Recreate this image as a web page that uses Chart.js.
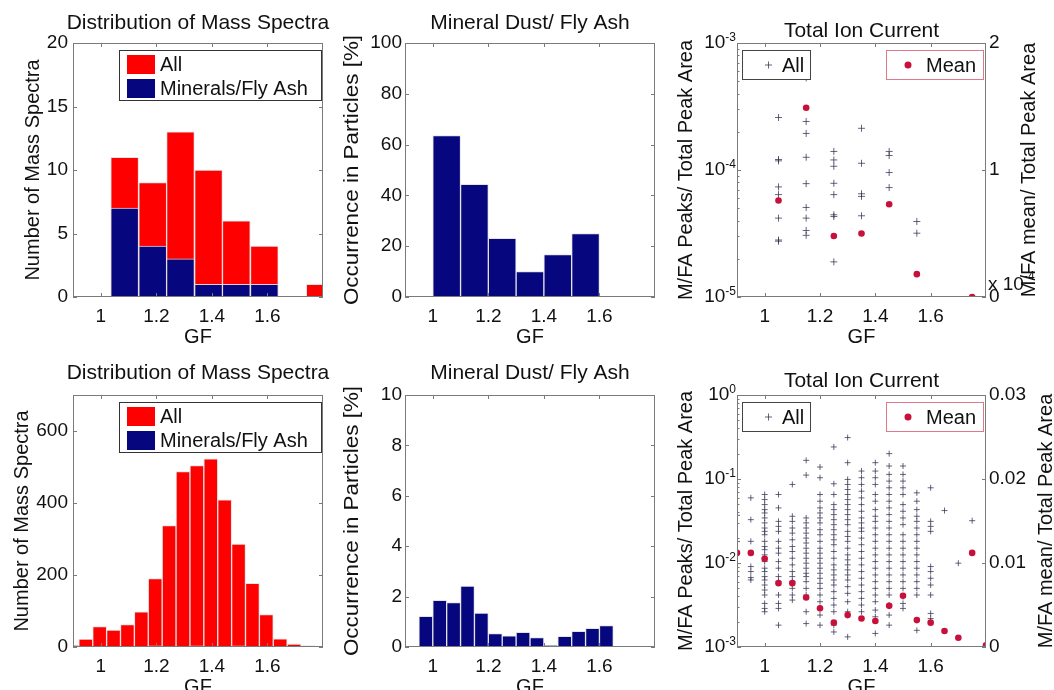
<!DOCTYPE html>
<html>
<head>
<meta charset="utf-8">
<title>GF distributions</title>
<script src="https://cdn.jsdelivr.net/npm/chart.js@4.4.1/dist/chart.umd.min.js"></script>
<style>
    body { margin: 0; background: #fff; width: 1054px; height: 690px; overflow: hidden; position: relative; }
    canvas { position: absolute; }
</style>
</head>
<body>
<canvas id="massTop" width="335" height="345" style="left:0px;top:0px"></canvas>
<canvas id="dustTop" width="337" height="345" style="left:335px;top:0px"></canvas>
<canvas id="ticTop" width="382" height="345" style="left:672px;top:0px"></canvas>
<canvas id="massBot" width="335" height="345" style="left:0px;top:345px"></canvas>
<canvas id="dustBot" width="337" height="345" style="left:335px;top:345px"></canvas>
<canvas id="ticBot" width="382" height="345" style="left:672px;top:345px"></canvas>
<script>
const gfTicks = [1, 1.2, 1.4, 1.6];

// top row
const gfMassTop = [1.086, 1.187, 1.287, 1.388, 1.488, 1.589, 1.689, 1.790];
const allMassTop = [11, 9, 13, 10, 6, 4, 0, 1];
const mineralsMassTop = [7, 4, 3, 1, 1, 1, 0, 0];
const massTopTicks = [0, 5, 10, 15, 20];

const gfDustTop = [1.05, 1.15, 1.25, 1.35, 1.45, 1.55];
const dustTop = [63.6, 44.4, 23.1, 10, 16.7, 25];
const dustTopTicks = [0, 20, 40, 60, 80, 100];

const gfTicTop = [1.05, 1.15, 1.25, 1.35, 1.45, 1.55];
const ticTopAll = [
    [2.59e-4, 1.21e-4, 1.18e-4, 7.36e-5, 6.4e-5, 4.18e-5, 2.81e-5, 2.75e-5],
    [5.31e-4, 2.41e-4, 1.94e-4, 1.26e-4, 7.81e-5, 5.07e-5, 4.18e-5, 3.34e-5, 3.06e-5],
    [1.40e-4, 1.20e-4, 1.07e-4, 7.86e-5, 6.4e-5, 4.44e-5, 4.3e-5, 1.89e-5],
    [2.13e-4, 1.13e-4, 6.5e-5, 6.2e-5, 4.36e-5],
    [1.40e-4, 1.30e-4, 9.55e-5, 7.27e-5],
    [3.93e-5, 3.18e-5]
];
const gfTicTopMean = [1.05, 1.15, 1.25, 1.35, 1.45, 1.55, 1.75];
const ticTopMean = [0.76, 1.49, 0.48, 0.50, 0.73, 0.18, 0]; // x 10^-4
const ticTopTicks = [1e-5, 1e-4, 1e-3];
const ticTopMeanTicks = [0, 1, 2];

// bottom row
const gfMassBot = [0.896, 0.946, 0.996, 1.046, 1.096, 1.146, 1.196, 1.246, 1.296, 1.346,
    1.396, 1.446, 1.496, 1.546, 1.596, 1.646, 1.696, 1.746, 1.796];
const allMassBot = [5, 22, 57, 47, 62, 98, 190, 337, 487, 504, 523, 409, 286, 177, 90, 23, 8, 4, 2];
const mineralsMassBot = [0, 0, 1, 1, 1, 2, 3, 2, 2, 3, 2, 0, 3, 1, 1, 0, 0, 0, 0];
const massBotTicks = [0, 200, 400, 600];

const gfDustBot = [0.975, 1.025, 1.075, 1.125, 1.175, 1.225, 1.275, 1.325, 1.375, 1.425,
    1.475, 1.525, 1.575, 1.625];
const dustBot = [1.22, 1.85, 1.76, 2.42, 1.35, 0.53, 0.44, 0.58, 0.37, 0.08, 0.42, 0.62, 0.74, 0.85];
const dustBotTicks = [0, 2, 4, 6, 8, 10];

const gfTicBot = [0.9, 0.95, 1.0, 1.05, 1.1, 1.15, 1.2, 1.25, 1.3, 1.35, 1.4, 1.45, 1.5, 1.55,
    1.6, 1.65, 1.7, 1.75];
const ticBotAll = [
    [0.037, 0.018],
    [0.0596, 0.0328, 0.0181, 0.00907, 0.00791, 0.0067, 0.00628],
    [0.0654, 0.0569, 0.0496, 0.0432, 0.0394, 0.0344, 0.0300, 0.0261, 0.0238, 0.0217, 0.0181, 0.0157, 0.0144,
        0.0125, 0.0114, 0.0104, 0.00867, 0.00791, 0.00689, 0.00628, 0.00547, 0.00477, 0.00416, 0.0033, 0.00288, 0.00263],
    [0.0654, 0.0453, 0.0313, 0.0273, 0.0238, 0.0181, 0.0150, 0.0131, 0.0104, 0.00867, 0.00689, 0.0060,
        0.00416, 0.0033, 0.00288, 0.00182],
    [0.0861, 0.0360, 0.0313, 0.0261, 0.0227, 0.0189, 0.0157, 0.0137, 0.0114, 0.0095, 0.00791, 0.00689,
        0.0060, 0.00499, 0.00416, 0.00362],
    [0.1668, 0.1113, 0.0344, 0.0300, 0.0261, 0.0227, 0.0198, 0.0173, 0.0150, 0.0131, 0.0114, 0.00995,
        0.00867, 0.00755, 0.00689, 0.0060, 0.00499, 0.00416, 0.00263, 0.0019],
    [0.1388, 0.1035, 0.0654, 0.0544, 0.0453, 0.0394, 0.0344, 0.0300, 0.0249, 0.0217, 0.0181, 0.0150,
        0.0131, 0.0114, 0.00995, 0.00867, 0.00755, 0.00658, 0.00573, 0.00499, 0.00416, 0.00346, 0.0024, 0.00182],
    [0.2408, 0.0877, 0.0654, 0.0496, 0.0432, 0.0377, 0.0328, 0.0286, 0.0249, 0.0217, 0.0189, 0.0165,
        0.0137, 0.0114, 0.0095, 0.00828, 0.00721, 0.00628, 0.00547, 0.00456, 0.00379, 0.00316, 0.00263,
        0.00182, 0.00151],
    [0.3113, 0.1564, 0.0988, 0.0861, 0.0750, 0.0654, 0.0569, 0.0496, 0.0432, 0.0377, 0.0328, 0.0286,
        0.0238, 0.0207, 0.0181, 0.0150, 0.0125, 0.0109, 0.0095, 0.00828, 0.00721, 0.00628, 0.00523,
        0.00435, 0.00346, 0.00263, 0.00132],
    [0.1243, 0.1035, 0.0861, 0.0716, 0.0596, 0.0496, 0.0413, 0.0344, 0.0300, 0.0261, 0.0238, 0.0198,
        0.0165, 0.0137, 0.0114, 0.0095, 0.00791, 0.00658, 0.00547, 0.00456, 0.00379, 0.00316, 0.00263],
    [0.1564, 0.1243, 0.1035, 0.0861, 0.0654, 0.0544, 0.0432, 0.0360, 0.0313, 0.0261, 0.0217, 0.0181,
        0.0150, 0.0125, 0.0104, 0.00867, 0.00721, 0.0060, 0.00499, 0.00416, 0.00346, 0.00275, 0.00229, 0.00145],
    [0.2004, 0.1427, 0.1134, 0.0944, 0.0786, 0.0654, 0.0544, 0.0453, 0.0377, 0.0313, 0.0261, 0.0217,
        0.0181, 0.0150, 0.0125, 0.0104, 0.00867, 0.00721, 0.0060, 0.00499, 0.00416, 0.00316, 0.0024, 0.00182],
    [0.1427, 0.1134, 0.0944, 0.0786, 0.0654, 0.0496, 0.0413, 0.0344, 0.0286, 0.0217, 0.0181, 0.0150,
        0.0125, 0.0104, 0.00867, 0.00721, 0.0060, 0.00499, 0.00397, 0.0033, 0.00288],
    [0.0684, 0.0544, 0.0432, 0.0360, 0.0313, 0.0261, 0.0217, 0.0181, 0.0150, 0.0125, 0.0104, 0.00867,
        0.00721, 0.0060, 0.00499, 0.00416, 0.00158],
    [0.0786, 0.0313, 0.0273, 0.0238, 0.00907, 0.00791, 0.00658, 0.00547, 0.00416, 0.00251, 0.00218],
    [0.0421],
    [0.00995],
    [0.0319]
];
const gfTicBotMean = [0.9, 0.95, 1.0, 1.05, 1.1, 1.15, 1.2, 1.25, 1.3, 1.35, 1.4, 1.45, 1.5, 1.55,
    1.6, 1.65, 1.7, 1.75, 1.8];
const ticBotMean = [0.0112, 0.0112, 0.0105, 0.0076, 0.0076, 0.0059, 0.0046, 0.0029, 0.0038, 0.0034,
    0.0031, 0.0049, 0.0061, 0.0032, 0.0029, 0.0019, 0.0011, 0.0112, 0.0002];
const ticBotTicks = [1e-3, 1e-2, 1e-1, 1];
const ticBotMeanTicks = [0, 0.01, 0.02, 0.03];

const FONT = '"Liberation Sans", Arial, sans-serif';
const INK = '#111';
const RED = '#ff0000';
const NAVY = '#06067f';
const CRIMSON = '#c8103c';
const PLUS = 'rgba(50, 50, 80, 0.75)';

function xyPairs(xs, ys) {
    return xs.map((x, i) => ({x: x, y: ys[i]}));
}

function columnPoints(cols, vals) {
    const pts = [];
    cols.forEach((x, i) => vals[i].forEach(v => pts.push({x: x, y: v})));
    return pts;
}

function fixedTicks(list) {
    return function (scale) {
        scale.ticks = list.map(v => ({value: v}));
    };
}

function fixedSize(prop, size) {
    return function (scale) {
        scale[prop] = size;
    };
}

function hiddenScale(extra) {
    return Object.assign({
        grid: {display: false},
        border: {display: false},
        ticks: {display: false}
    }, extra);
}

function drawPowerLabel(ctx, value, xRight, y) {
    const exp = String(Math.round(Math.log10(value)));
    ctx.font = '12px ' + FONT;
    const ew = ctx.measureText(exp).width;
    ctx.textAlign = 'right';
    ctx.textBaseline = 'alphabetic';
    ctx.fillText(exp, xRight, y - 2);
    ctx.font = '19px ' + FONT;
    ctx.textBaseline = 'middle';
    ctx.fillText('10', xRight - ew, y);
}

function drawCross(ctx, x, y, r) {
    ctx.beginPath();
    ctx.moveTo(x - r, y);
    ctx.lineTo(x + r, y);
    ctx.moveTo(x, y - r);
    ctx.lineTo(x, y + r);
    ctx.stroke();
}

function drawRotated(ctx, text, x, y, stretch) {
    ctx.save();
    ctx.translate(x, y);
    ctx.rotate(-Math.PI / 2);
    ctx.scale(stretch || 1, 1);
    ctx.fillText(text, 0, 0);
    ctx.restore();
}

// matlab style box, inward ticks, labels and legends
const matlabAxes = {
    id: 'matlabAxes',
    afterDatasetsDraw(chart, args, o) {
        const ctx = chart.ctx;
        const a = chart.chartArea;
        const xs = chart.scales.x;
        const ys = chart.scales.y;
        const y2 = chart.scales.y2;
        const logY = ys.type === 'logarithmic';

        ctx.save();
        ctx.lineWidth = 1;
        ctx.strokeStyle = '#7a7a7a';
        ctx.beginPath();
        xs.ticks.forEach(t => {
            const px = Math.round(xs.getPixelForValue(t.value)) + 0.5;
            ctx.moveTo(px, a.bottom);
            ctx.lineTo(px, a.bottom - 4);
            ctx.moveTo(px, a.top);
            ctx.lineTo(px, a.top + 4);
        });
        ys.ticks.forEach(t => {
            const py = Math.round(ys.getPixelForValue(t.value)) + 0.5;
            ctx.moveTo(a.left, py);
            ctx.lineTo(a.left + 4, py);
            if (!y2) {
                ctx.moveTo(a.right, py);
                ctx.lineTo(a.right - 4, py);
            }
        });
        if (logY) {
            const e0 = Math.round(Math.log10(ys.min));
            const e1 = Math.round(Math.log10(ys.max));
            for (let e = e0; e < e1; e++) {
                for (let k = 2; k <= 9; k++) {
                    const py = Math.round(ys.getPixelForValue(k * Math.pow(10, e))) + 0.5;
                    ctx.moveTo(a.left, py);
                    ctx.lineTo(a.left + 2.5, py);
                }
            }
        }
        if (y2) {
            y2.ticks.forEach(t => {
                const py = Math.round(y2.getPixelForValue(t.value)) + 0.5;
                ctx.moveTo(a.right, py);
                ctx.lineTo(a.right - 4, py);
            });
        }
        ctx.stroke();
        ctx.strokeRect(a.left + 0.5, a.top + 0.5, a.right - a.left - 1, a.bottom - a.top - 1);

        const ds = chart.data.datasets;
        if (o.legend === 'bars') {
            const bx = a.left + 46, by = a.top + 7;
            const bw = a.right - 2 - bx, bh = 50;
            ctx.fillStyle = '#fff';
            ctx.fillRect(bx, by, bw, bh);
            ctx.strokeStyle = '#333';
            ctx.strokeRect(bx + 0.5, by + 0.5, bw, bh);
            ds.forEach((d, i) => {
                const cy = by + 14.5 + i * 24;
                ctx.fillStyle = d.backgroundColor;
                ctx.fillRect(bx + 8, cy - 9.5, 28, 19);
                ctx.fillStyle = INK;
                ctx.font = '20px ' + FONT;
                ctx.textAlign = 'left';
                ctx.textBaseline = 'middle';
                ctx.fillText(d.label, bx + 41, cy + 1);
            });
        } else if (o.legend === 'scatter') {
            const bx = a.left + 5, by = a.top + 7;
            ctx.fillStyle = '#fff';
            ctx.fillRect(bx, by, 68, 29);
            ctx.strokeStyle = '#444';
            ctx.strokeRect(bx + 0.5, by + 0.5, 68, 29);
            ctx.strokeStyle = ds[0].borderColor;
            drawCross(ctx, bx + 26.5, by + 15, 3.5);
            ctx.fillStyle = INK;
            ctx.font = '20px ' + FONT;
            ctx.textAlign = 'left';
            ctx.textBaseline = 'middle';
            ctx.fillText(ds[0].label, bx + 40, by + 16);

            const mx = a.right - 3 - 97;
            ctx.fillStyle = '#fff';
            ctx.fillRect(mx, by, 97, 29);
            ctx.strokeStyle = '#e07a8a';
            ctx.strokeRect(mx + 0.5, by + 0.5, 97, 29);
            ctx.fillStyle = ds[1].backgroundColor;
            ctx.beginPath();
            ctx.arc(mx + 22, by + 15, 3.5, 0, Math.PI * 2);
            ctx.fill();
            ctx.fillStyle = INK;
            ctx.fillText(ds[1].label, mx + 40, by + 16);
        }

        // texts
        ctx.fillStyle = INK;
        ctx.font = '19px ' + FONT;
        ctx.textAlign = 'center';
        ctx.textBaseline = 'alphabetic';
        xs.ticks.forEach(t => {
            ctx.fillText(String(t.value), xs.getPixelForValue(t.value), a.bottom + 25);
        });
        ys.ticks.forEach(t => {
            const py = ys.getPixelForValue(t.value);
            if (logY) {
                drawPowerLabel(ctx, t.value, a.left - 1, py);
            } else {
                ctx.font = '19px ' + FONT;
                ctx.textAlign = 'right';
                ctx.textBaseline = 'middle';
                ctx.fillText(String(t.value), a.left - o.yGap, py);
            }
        });
        if (y2) {
            ctx.font = '19px ' + FONT;
            ctx.textAlign = 'left';
            ctx.textBaseline = 'middle';
            y2.ticks.forEach(t => {
                ctx.fillText(String(t.value), a.right + 3, y2.getPixelForValue(t.value));
            });
            if (o.y2Exp) {
                ctx.textBaseline = 'alphabetic';
                ctx.fillText('x 10', a.right + 2, a.bottom - 7);
                const w = ctx.measureText('x 10').width;
                ctx.font = '12px ' + FONT;
                ctx.fillText(o.y2Exp, a.right + 2 + w, a.bottom - 17);
            }
        }

        ctx.font = '21px ' + FONT;
        ctx.textAlign = 'center';
        ctx.textBaseline = 'alphabetic';
        ctx.fillText(o.title, (a.left + a.right) / 2, a.top + o.titleY);
        ctx.font = '20px ' + FONT;
        ctx.fillText('GF', (a.left + a.right) / 2, a.bottom + 46);

        ctx.textBaseline = 'middle';
        drawRotated(ctx, o.yLabel, o.yLabelX, (a.top + a.bottom) / 2, o.yStretch);
        if (o.y2Label) {
            drawRotated(ctx, o.y2Label, o.y2LabelX, (a.top + a.bottom) / 2, 1);
        }
        ctx.restore();
    }
};

function barDataset(label, xs, ys, color, order) {
    return {
        label: label,
        data: xyPairs(xs, ys),
        backgroundColor: color,
        borderColor: 'rgba(225, 225, 225, 0.9)',
        borderWidth: 1,
        barPercentage: 1,
        categoryPercentage: 1,
        grouped: false,
        order: order
    };
}

function createHistChart(canvasId, datasets, yMax, yTicks, box, frame) {
    return new Chart(document.getElementById(canvasId), {
        type: 'bar',
        data: {datasets: datasets},
        options: {
            responsive: false,
            animation: false,
            events: [],
            layout: {padding: {top: box.top, right: box.right, left: 0, bottom: 0}},
            scales: {
                x: hiddenScale({
                    type: 'linear', min: 0.9, max: 1.8, offset: false,
                    afterBuildTicks: fixedTicks(gfTicks),
                    afterFit: fixedSize('height', box.bottom)
                }),
                y: hiddenScale({
                    type: 'linear', min: 0, max: yMax,
                    afterBuildTicks: fixedTicks(yTicks),
                    afterFit: fixedSize('width', box.left)
                })
            },
            plugins: {
                legend: {display: false},
                tooltip: {enabled: false},
                title: {display: false},
                matlabAxes: frame
            }
        },
        plugins: [matlabAxes]
    });
}

function createTicChart(canvasId, allPts, meanPts, yRange, yTicks, y2Max, y2Ticks, box, frame) {
    return new Chart(document.getElementById(canvasId), {
        type: 'scatter',
        data: {
            datasets: [{
                    label: 'All',
                    data: allPts,
                    yAxisID: 'y',
                    pointStyle: 'cross',
                    pointRadius: box.plus,
                    borderColor: PLUS,
                    backgroundColor: PLUS,
                    borderWidth: 1,
                    order: 2
                }, {
                    label: 'Mean',
                    data: meanPts,
                    yAxisID: 'y2',
                    pointStyle: 'circle',
                    pointRadius: 3.3,
                    borderWidth: 0,
                    borderColor: CRIMSON,
                    backgroundColor: CRIMSON,
                    order: 1
                }]
        },
        options: {
            responsive: false,
            animation: false,
            events: [],
            layout: {padding: {top: box.top, right: 0, left: 0, bottom: 0}},
            scales: {
                x: hiddenScale({
                    type: 'linear', min: 0.9, max: 1.8,
                    afterBuildTicks: fixedTicks(gfTicks),
                    afterFit: fixedSize('height', box.bottom)
                }),
                y: hiddenScale({
                    type: 'logarithmic', position: 'left', min: yRange[0], max: yRange[1],
                    afterBuildTicks: fixedTicks(yTicks),
                    afterFit: fixedSize('width', box.left)
                }),
                y2: hiddenScale({
                    type: 'linear', position: 'right', min: 0, max: y2Max,
                    afterBuildTicks: fixedTicks(y2Ticks),
                    afterFit: fixedSize('width', box.right)
                })
            },
            plugins: {
                legend: {display: false},
                tooltip: {enabled: false},
                title: {display: false},
                matlabAxes: frame
            }
        },
        plugins: [matlabAxes]
    });
}

createHistChart('massTop', [
    barDataset('All', gfMassTop, allMassTop, RED, 2),
    barDataset('Minerals/Fly Ash', gfMassTop, mineralsMassTop, NAVY, 1)
], 20, massTopTicks, {top: 43, right: 12, left: 73, bottom: 48}, {
    title: 'Distribution of Mass Spectra', titleY: -14, yLabel: 'Number of Mass Spectra',
    yLabelX: 33, yGap: 5, legend: 'bars'
});

createHistChart('dustTop', [
    barDataset('Minerals/Fly Ash', gfDustTop, dustTop, NAVY, 1)
], 100, dustTopTicks, {top: 43, right: 17, left: 70, bottom: 48}, {
    title: 'Mineral Dust/ Fly Ash', titleY: -14, yLabel: 'Occurrence in Particles [%]',
    yLabelX: 17, yGap: 3, yStretch: 1.12
});

createTicChart('ticTop', columnPoints(gfTicTop, ticTopAll), xyPairs(gfTicTopMean, ticTopMean),
    [1e-5, 1e-3], ticTopTicks, 2, ticTopMeanTicks,
    {top: 43, left: 65, right: 68, bottom: 48, plus: 3.5}, {
    title: 'Total Ion Current', titleY: -6, yLabel: 'M/FA Peaks/ Total Peak Area', yLabelX: 14,
    y2Label: 'M/FA mean/ Total Peak Area', y2LabelX: 357, y2Exp: '-4', legend: 'scatter'
});

createHistChart('massBot', [
    barDataset('All', gfMassBot, allMassBot, RED, 2),
    barDataset('Minerals/Fly Ash', gfMassBot, mineralsMassBot, NAVY, 1)
], 700, massBotTicks, {top: 50, right: 12, left: 73, bottom: 43}, {
    title: 'Distribution of Mass Spectra', titleY: -16, yLabel: 'Number of Mass Spectra',
    yLabelX: 22, yGap: 5, legend: 'bars'
});

createHistChart('dustBot', [
    barDataset('Minerals/Fly Ash', gfDustBot, dustBot, NAVY, 1)
], 10, dustBotTicks, {top: 50, right: 17, left: 70, bottom: 43}, {
    title: 'Mineral Dust/ Fly Ash', titleY: -16, yLabel: 'Occurrence in Particles [%]',
    yLabelX: 17, yGap: 3, yStretch: 1.12
});

createTicChart('ticBot', columnPoints(gfTicBot, ticBotAll), xyPairs(gfTicBotMean, ticBotMean),
    [1e-3, 1], ticBotTicks, 0.03, ticBotMeanTicks,
    {top: 50, left: 65, right: 68, bottom: 43, plus: 3}, {
    title: 'Total Ion Current', titleY: -8, yLabel: 'M/FA Peaks/ Total Peak Area', yLabelX: 14,
    y2Label: 'M/FA mean/ Total Peak Area', y2LabelX: 374, legend: 'scatter'
});
</script>
</body>
</html>
